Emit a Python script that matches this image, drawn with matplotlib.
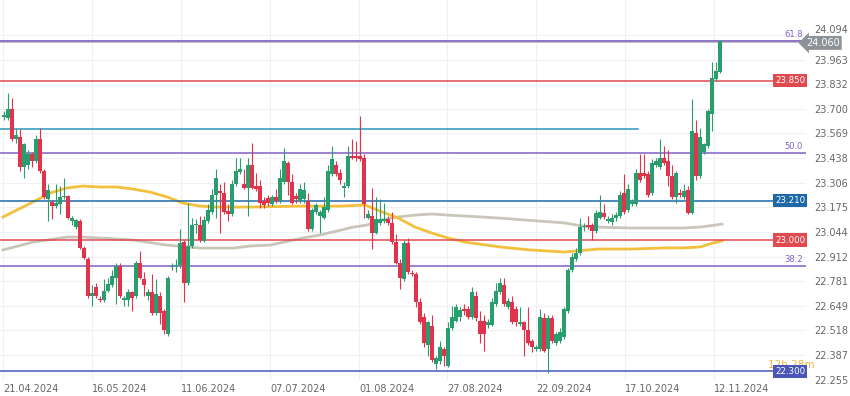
import matplotlib
matplotlib.use("Agg")
import matplotlib.pyplot as plt

# daily candles, USD/CZK-style, Apr - Nov 2024
opens = [23.655, 23.650, 23.700, 23.540, 23.550, 23.390, 23.400, 23.460, 23.420, 23.540,
         23.370, 23.220, 23.205, 23.180, 23.190, 23.230, 23.235, 23.100, 23.070, 23.100,
         22.960, 22.900, 22.700, 22.750, 22.685, 22.680, 22.730, 22.760, 22.800, 22.860,
         22.680, 22.680, 22.720, 22.700, 22.880, 22.790, 22.700, 22.720, 22.610, 22.700,
         22.620, 22.500, 22.855, 22.860, 22.865, 22.990, 22.770, 22.970, 23.080, 23.080,
         22.995, 23.100, 23.150, 23.240, 23.260, 23.250, 23.155, 23.140, 23.300, 23.365,
         23.300, 23.280, 23.400, 23.290, 23.290, 23.210, 23.225, 23.190, 23.230, 23.210,
         23.310, 23.410, 23.310, 23.235, 23.210, 23.220, 23.210, 23.060, 23.150, 23.130,
         23.120, 23.160, 23.350, 23.400, 23.360, 23.280, 23.290, 23.450, 23.450, 23.450,
         23.440, 23.120, 23.130, 23.040, 23.090, 23.100, 23.110, 23.090, 22.990, 22.880,
         22.790, 22.985, 22.825, 22.820, 22.670, 22.590, 22.440, 22.540, 22.340, 22.355,
         22.420, 22.330, 22.530, 22.570, 22.590, 22.630, 22.630, 22.590, 22.700, 22.570,
         22.570, 22.545, 22.545, 22.660, 22.720, 22.760, 22.640, 22.670, 22.630, 22.550,
         22.560, 22.520, 22.460, 22.420, 22.420, 22.585, 22.420, 22.585, 22.450, 22.460,
         22.480, 22.620, 22.840, 22.900, 22.930, 23.070, 23.080, 23.080, 23.050, 23.120,
         23.145, 23.100, 23.095, 23.120, 23.130, 23.250, 23.160, 23.190, 23.190, 23.360,
         23.360, 23.350, 23.250, 23.400, 23.390, 23.440, 23.420, 23.340, 23.230, 23.250,
         23.230, 23.265, 23.145, 23.570, 23.340, 23.470, 23.500, 23.670, 23.860, 23.895]
highs = [23.690, 23.785, 23.760, 23.590, 23.590, 23.520, 23.480, 23.470, 23.560, 23.600,
         23.380, 23.300, 23.215, 23.300, 23.290, 23.330, 23.240, 23.130, 23.110, 23.110,
         22.970, 22.910, 22.760, 22.770, 22.700, 22.790, 22.800, 22.840, 22.880, 22.875,
         22.700, 22.740, 22.730, 22.890, 22.940, 22.830, 22.740, 22.820, 22.790, 22.720,
         22.630, 22.810, 22.880, 22.900, 23.060, 23.000, 23.200, 23.120, 23.110, 23.130,
         23.130, 23.190, 23.270, 23.380, 23.300, 23.310, 23.190, 23.320, 23.440, 23.440,
         23.380, 23.440, 23.520, 23.360, 23.320, 23.230, 23.240, 23.240, 23.270, 23.380,
         23.490, 23.420, 23.350, 23.250, 23.300, 23.310, 23.250, 23.170, 23.200, 23.160,
         23.230, 23.400, 23.500, 23.420, 23.380, 23.310, 23.500, 23.540, 23.530, 23.660,
         23.460, 23.160, 23.280, 23.230, 23.220, 23.200, 23.130, 23.150, 23.030, 22.900,
         23.000, 23.010, 22.840, 22.830, 22.690, 22.610, 22.570, 22.600, 22.380, 22.460,
         22.430, 22.560, 22.650, 22.660, 22.640, 22.660, 22.650, 22.750, 22.730, 22.620,
         22.600, 22.580, 22.690, 22.770, 22.800, 22.800, 22.690, 22.700, 22.650, 22.640,
         22.570, 22.640, 22.470, 22.440, 22.630, 22.610, 22.600, 22.600, 22.510, 22.530,
         22.640, 22.850, 22.930, 22.960, 23.120, 23.090, 23.130, 23.090, 23.160, 23.240,
         23.190, 23.130, 23.140, 23.150, 23.260, 23.350, 23.300, 23.220, 23.380, 23.460,
         23.460, 23.370, 23.430, 23.440, 23.540, 23.500, 23.480, 23.400, 23.370, 23.270,
         23.300, 23.290, 23.750, 23.640, 23.600, 23.520, 23.700, 23.950, 23.950, 24.065]
lows = [23.640, 23.640, 23.530, 23.520, 23.370, 23.330, 23.380, 23.390, 23.410, 23.360,
        23.220, 23.100, 23.110, 23.170, 23.140, 23.220, 23.110, 23.080, 23.060, 22.950,
        22.900, 22.690, 22.650, 22.690, 22.670, 22.670, 22.720, 22.750, 22.660, 22.690,
        22.650, 22.650, 22.620, 22.690, 22.790, 22.700, 22.680, 22.600, 22.600, 22.550,
        22.500, 22.490, 22.840, 22.830, 22.850, 22.670, 22.760, 22.960, 23.040, 22.990,
        22.990, 23.090, 23.140, 23.120, 23.040, 23.140, 23.100, 23.130, 23.290, 23.350,
        23.270, 23.130, 23.270, 23.260, 23.170, 23.170, 23.180, 23.180, 23.200, 23.200,
        23.300, 23.240, 23.190, 23.200, 23.200, 23.200, 23.050, 23.050, 23.140, 23.040,
        23.110, 23.150, 23.340, 23.340, 23.300, 23.230, 23.280, 23.430, 23.420, 23.420,
        23.120, 23.110, 22.950, 23.030, 23.080, 23.090, 23.080, 22.980, 22.870, 22.740,
        22.780, 22.820, 22.810, 22.640, 22.550, 22.430, 22.380, 22.350, 22.310, 22.340,
        22.330, 22.320, 22.520, 22.560, 22.570, 22.600, 22.580, 22.580, 22.570, 22.450,
        22.410, 22.530, 22.540, 22.650, 22.710, 22.650, 22.630, 22.550, 22.540, 22.540,
        22.380, 22.440, 22.400, 22.410, 22.410, 22.400, 22.290, 22.450, 22.440, 22.450,
        22.470, 22.610, 22.830, 22.890, 22.920, 23.050, 23.060, 23.000, 23.040, 23.110,
        23.110, 23.090, 23.080, 23.100, 23.120, 23.140, 23.150, 23.180, 23.180, 23.310,
        23.330, 23.230, 23.240, 23.390, 23.380, 23.400, 23.290, 23.220, 23.200, 23.230,
        23.220, 23.140, 23.140, 23.320, 23.330, 23.460, 23.490, 23.580, 23.850, 23.890]
closes = [23.665, 23.700, 23.540, 23.560, 23.390, 23.510, 23.460, 23.420, 23.540, 23.370,
          23.230, 23.265, 23.180, 23.200, 23.230, 23.235, 23.120, 23.120, 23.105, 22.960,
          22.905, 22.700, 22.715, 22.700, 22.680, 22.730, 22.765, 22.810, 22.860, 22.700,
          22.690, 22.720, 22.690, 22.880, 22.800, 22.760, 22.725, 22.610, 22.710, 22.610,
          22.520, 22.800, 22.860, 22.865, 22.985, 22.770, 22.970, 23.080, 23.085, 23.000,
          23.105, 23.160, 23.240, 23.330, 23.250, 23.150, 23.140, 23.300, 23.370, 23.380,
          23.280, 23.400, 23.280, 23.275, 23.200, 23.185, 23.195, 23.230, 23.210, 23.330,
          23.420, 23.310, 23.200, 23.220, 23.270, 23.265, 23.060, 23.160, 23.185, 23.150,
          23.175, 23.370, 23.430, 23.350, 23.320, 23.290, 23.450, 23.440, 23.440, 23.430,
          23.190, 23.140, 23.040, 23.110, 23.110, 23.110, 23.090, 22.990, 22.880, 22.800,
          22.985, 22.830, 22.820, 22.670, 22.560, 22.450, 22.560, 22.360, 22.370, 22.430,
          22.380, 22.530, 22.590, 22.640, 22.625, 22.620, 22.590, 22.720, 22.585, 22.500,
          22.500, 22.560, 22.670, 22.730, 22.770, 22.660, 22.675, 22.560, 22.560, 22.560,
          22.520, 22.450, 22.430, 22.430, 22.590, 22.410, 22.585, 22.460, 22.500, 22.510,
          22.630, 22.840, 22.910, 22.930, 23.070, 23.075, 23.070, 23.050, 23.145, 23.150,
          23.125, 23.110, 23.120, 23.135, 23.240, 23.150, 23.270, 23.205, 23.360, 23.320,
          23.340, 23.240, 23.410, 23.420, 23.440, 23.410, 23.340, 23.230, 23.360, 23.240,
          23.260, 23.145, 23.580, 23.340, 23.550, 23.510, 23.690, 23.865, 23.900, 24.060]

# moving averages (bar index, price)
ma_fast_x = [-0.25, 7.25, 11.5, 15.75, 19.75, 24, 28.25, 32.25, 36.5, 40.75, 44.75, 49, 53.25,
             61.5, 74, 84, 90.25, 94.5, 98.5, 102.75, 107, 111, 115.25, 124, 131.5, 140.25,
             148.5, 157, 165.25, 169.75, 174, 177.25, 179.5]
ma_fast_y = [23.123, 23.203, 23.251, 23.278, 23.288, 23.283, 23.283, 23.272, 23.256, 23.230,
             23.197, 23.181, 23.176, 23.176, 23.181, 23.181, 23.187, 23.150, 23.118, 23.069,
             23.037, 23.011, 22.989, 22.963, 22.947, 22.936, 22.952, 22.952, 22.958, 22.958,
             22.963, 22.984, 22.995]
ma_slow_x = [-0.25, 7.25, 15.75, 19.75, 24, 32.25, 40.75, 49, 57.25, 61.5, 66.5, 74.75, 79,
             83.25, 87.25, 90.75, 94.5, 98.5, 102.75, 107, 111, 115.25, 124, 134, 140.25,
             144.5, 148.5, 157, 165.25, 169.75, 174, 179.5]
ma_slow_y = [22.947, 22.989, 23.016, 23.016, 23.011, 23.000, 22.973, 22.957, 22.957, 22.968,
             22.973, 23.011, 23.027, 23.048, 23.069, 23.080, 23.107, 23.123, 23.133, 23.139,
             23.133, 23.128, 23.117, 23.101, 23.091, 23.075, 23.069, 23.064, 23.064, 23.064,
             23.069, 23.085]

fib_levels = [24.063, 23.462, 22.861]
fib_names = ["61.8", "50.0", "38.2"]
price_levels = [23.850, 23.210, 23.000, 22.300]
price_colors = ["#e04a4f", "#1f68a8", "#e04a4f", "#4a56b8"]
teal_level = 23.592
teal_end = 158.5
last_price = 24.060

yticks = [24.094, 23.963, 23.832, 23.700, 23.569, 23.438, 23.306, 23.175,
          23.044, 22.912, 22.781, 22.649, 22.518, 22.387, 22.255]
date_labels = ["21.04.2024", "16.05.2024", "11.06.2024", "07.07.2024", "01.08.2024",
               "27.08.2024", "22.09.2024", "17.10.2024", "12.11.2024"]
date_pos = [-0.25, 22, 44.25, 66.5, 88.75, 110.75, 133, 155.25, 177.5]

green = "#2a9d6e"
red = "#e0334c"

fig = plt.figure(figsize=(8.5, 3.96), dpi=100)
ax = fig.add_axes([0, 16 / 396, 806 / 850, 380 / 396])

# grid
for p in date_pos:
    ax.axvline(p, color="#efefef", lw=0.8, zorder=0)
for t in yticks:
    ax.axhline(t, color="#f1f1f1", lw=0.8, zorder=0)

# moving averages
ax.plot(ma_slow_x, ma_slow_y, color="#c9c5b9", lw=2, zorder=2)
ax.plot(ma_fast_x, ma_fast_y, color="#f2c03c", lw=2, zorder=2)

# horizontal levels
ax.axhline(last_price, color="#c4c4c4", lw=2.2, zorder=1)
for lv in fib_levels:
    ax.axhline(lv, color="#8060c8", lw=1.1, zorder=3)
for lv, c in zip(price_levels, price_colors):
    ax.axhline(lv, color=c, lw=1.1, zorder=3)
ax.plot([-1, teal_end], [teal_level, teal_level], color="#2a96b8", lw=1.1, zorder=3)

# candles
xs = list(range(len(closes)))
cols = [green if c >= o else red for o, c in zip(opens, closes)]
ax.vlines(xs, lows, highs, colors=cols, lw=0.8, zorder=4)
bottoms = [min(o, c) for o, c in zip(opens, closes)]
heights = [max(abs(c - o), 0.006) for o, c in zip(opens, closes)]
ax.bar(xs, heights, bottom=bottoms, width=0.8, color=cols, lw=0, zorder=5)

ax.set_xlim(-1, 200.5)
ax.set_ylim(22.253, 24.281)

ax.set_xticks(date_pos)
ax.set_xticklabels(date_labels, ha="left")
ax.set_yticks(yticks)
ax.set_yticklabels(["%.3f" % t for t in yticks])
ax.yaxis.tick_right()
ax.tick_params(axis="both", length=0, labelsize=7, colors="#666666")
ax.tick_params(axis="x", pad=3)
ax.tick_params(axis="y", pad=6)
ax.get_yticklabels()[0].set_va("bottom")
for s in ax.spines.values():
    s.set_visible(False)

trans = ax.get_yaxis_transform()
for lv, name in zip(fib_levels, fib_names):
    ax.text(0.996, lv + 0.012, name, transform=trans, ha="right", va="bottom",
            fontsize=6, color="#8060c8", zorder=6)

ax.text(0.953, 22.335, "12h 28m", transform=trans, ha="left", va="center",
        fontsize=7.5, color="#f0b43c", zorder=6)
for lv, c in zip(price_levels, price_colors):
    ax.text(0.999, lv, "%.3f" % lv, transform=trans, ha="right", va="center",
            fontsize=6.2, color="white", zorder=7,
            bbox=dict(boxstyle="square,pad=0.25", fc=c, ec="none"))
ax.text(1.0, last_price - 0.008, "%.3f" % last_price, transform=trans, ha="left",
        va="center", fontsize=7, color="white", zorder=8, clip_on=False,
        bbox=dict(boxstyle="larrow,pad=0.2", fc="#8d9297", ec="none"))

fig.savefig("out.png", dpi=100)
